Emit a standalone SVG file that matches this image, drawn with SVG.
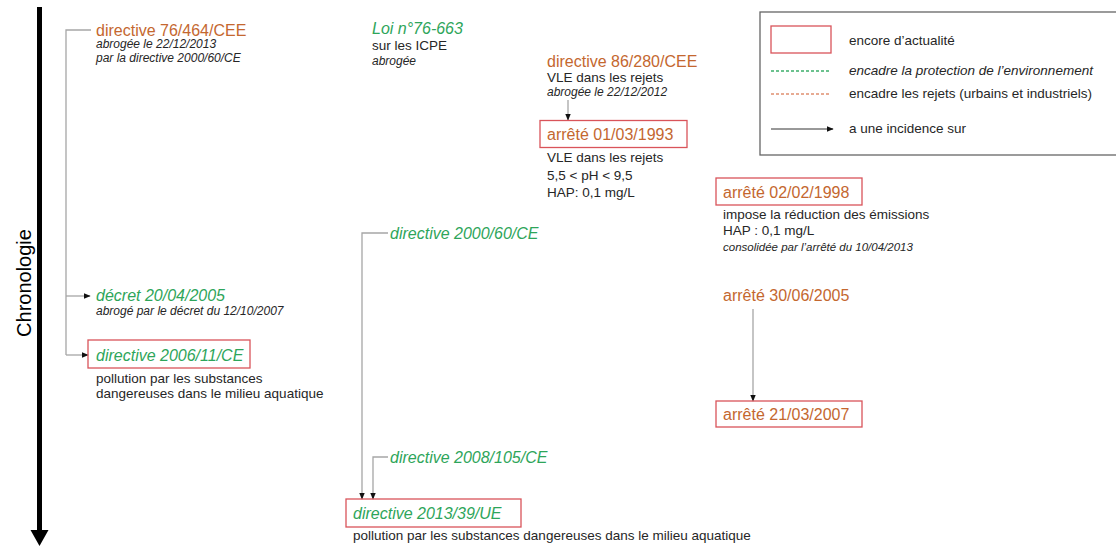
<svg xmlns="http://www.w3.org/2000/svg" width="1116" height="546" viewBox="0 0 1116 546">
<style>
text{font-family:"Liberation Sans",Arial,sans-serif;fill:#262626}
.t{font-size:16px}
.or{fill:#C4672F}
.gr{fill:#2EA55A;font-style:italic}
.s{font-size:13.5px}
.i{font-size:12px;font-style:italic}
.box{fill:none;stroke:#D9545A;stroke-width:1.3}
.c{fill:none;stroke:#A6A6A6;stroke-width:1.3}
</style>
<defs>
<marker id="ah" viewBox="0 0 10 10" refX="9" refY="5" markerWidth="7" markerHeight="7" markerUnits="userSpaceOnUse" orient="auto"><path d="M0,1 L10,5 L0,9 z" fill="#111"/></marker>
</defs>
<rect width="1116" height="546" fill="#fff"/>
<g id="axis">
<line x1="39.5" y1="7" x2="39.5" y2="531" stroke="#000" stroke-width="5"/>
<polygon points="30.5,530 48.5,530 39.5,546" fill="#000"/>
<text transform="translate(31,283) rotate(-90)" text-anchor="middle" style="font-size:20px;fill:#000">Chronologie</text>
</g>
<g id="connectors">
<polyline class="c" points="91,30 66,30 66,355"/>
<line class="c" x1="66" y1="296" x2="90" y2="296" marker-end="url(#ah)"/>
<line class="c" x1="66" y1="355" x2="88" y2="355" marker-end="url(#ah)"/>
<line class="c" x1="568" y1="100" x2="568" y2="120" marker-end="url(#ah)"/>
<line class="c" x1="753" y1="309" x2="753" y2="401" marker-end="url(#ah)"/>
<polyline class="c" points="388,233 362,233 362,499" marker-end="url(#ah)"/>
<polyline class="c" points="388,457 373,457 373,499" marker-end="url(#ah)"/>
</g>
<g id="n-76-464">
<text x="96" y="36" class="t or">directive 76/464/CEE</text>
<text x="96" y="48" class="i">abrogée le 22/12/2013</text>
<text x="96" y="62" class="i">par la directive 2000/60/CE</text>
</g>
<g id="n-loi-76-663">
<text x="372" y="34" class="t gr">Loi n°76-663</text>
<text x="372" y="50" class="s">sur les ICPE</text>
<text x="372" y="65" class="i">abrogée</text>
</g>
<g id="n-86-280">
<text x="547" y="67" class="t or">directive 86/280/CEE</text>
<text x="547" y="82" class="s">VLE dans les rejets</text>
<text x="547" y="96" class="i">abrogée le 22/12/2012</text>
</g>
<g id="n-arrete-1993">
<rect class="box" x="540" y="120.5" width="147" height="27"/>
<text x="547" y="140" class="t or">arrêté 01/03/1993</text>
<text x="547" y="162" class="s">VLE dans les rejets</text>
<text x="547" y="180" class="s">5,5 &lt; pH &lt; 9,5</text>
<text x="547" y="197" class="s">HAP: 0,1 mg/L</text>
</g>
<g id="n-arrete-1998">
<rect class="box" x="716" y="178" width="146" height="27"/>
<text x="723" y="198" class="t or">arrêté 02/02/1998</text>
<text x="723" y="219" class="s">impose la réduction des émissions</text>
<text x="723" y="235" class="s">HAP : 0,1 mg/L</text>
<text x="723" y="251" class="i" style="font-size:11.5px">consolidée par l’arrêté du 10/04/2013</text>
</g>
<g id="n-arrete-2005">
<text x="723" y="301" class="t or">arrêté 30/06/2005</text>
</g>
<g id="n-arrete-2007">
<rect class="box" x="716" y="401" width="146" height="26"/>
<text x="723" y="420" class="t or">arrêté 21/03/2007</text>
</g>
<g id="n-2000-60">
<text x="390" y="239" class="t gr">directive 2000/60/CE</text>
</g>
<g id="n-decret-2005">
<text x="96" y="301" class="t gr">décret 20/04/2005</text>
<text x="96" y="315" class="i">abrogé par le décret du 12/10/2007</text>
</g>
<g id="n-2006-11">
<rect class="box" x="88" y="340" width="162" height="28"/>
<text x="96" y="361" class="t gr">directive 2006/11/CE</text>
<text x="96" y="383" class="s">pollution par les substances</text>
<text x="96" y="398" class="s">dangereuses dans le milieu aquatique</text>
</g>
<g id="n-2008-105">
<text x="390" y="463" class="t gr">directive 2008/105/CE</text>
</g>
<g id="n-2013-39">
<rect class="box" x="346" y="499" width="175" height="28"/>
<text x="353" y="519" class="t gr">directive 2013/39/UE</text>
<text x="353" y="540" class="s">pollution par les substances dangereuses dans le milieu aquatique</text>
</g>
<g id="legend">
<rect x="760" y="12" width="400" height="143" fill="none" stroke="#666" stroke-width="1.3"/>
<rect class="box" x="771" y="26" width="60" height="27"/>
<text x="849" y="45" class="s">encore d’actualité</text>
<line x1="771" y1="71" x2="831" y2="71" stroke="#3DAE6B" stroke-width="1.3" stroke-dasharray="3,2"/>
<text x="849" y="75" class="s" style="font-style:italic">encadre la protection de l’environnement</text>
<line x1="771" y1="94" x2="831" y2="94" stroke="#E09070" stroke-width="1.3" stroke-dasharray="3,2"/>
<text x="849" y="98" class="s">encadre les rejets (urbains et industriels)</text>
<line x1="771" y1="129" x2="833" y2="129" stroke="#333" stroke-width="1" marker-end="url(#ah)"/>
<text x="849" y="133" class="s">a une incidence sur</text>
</g>
</svg>
